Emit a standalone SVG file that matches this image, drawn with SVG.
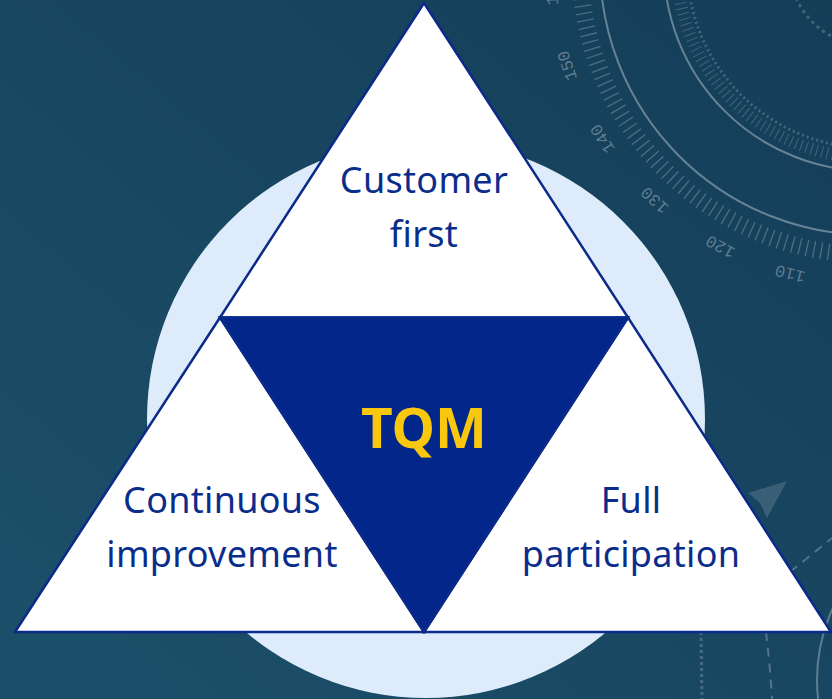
<svg xmlns="http://www.w3.org/2000/svg" width="832" height="699" viewBox="0 0 832 699">
  <defs>
    <linearGradient id="bg" x1="0" y1="1" x2="1" y2="0">
      <stop offset="0" stop-color="#1c506a"/>
      <stop offset="1" stop-color="#143d58"/>
    </linearGradient>
    <style>
      .deco { fill: none; stroke: #ffffff; }
      .num { font-family: "Liberation Mono", "DejaVu Sans Mono", monospace; font-size: 17px; fill: #ffffff; fill-opacity: 0.33; text-anchor: middle; dominant-baseline: central; }
      .tri { fill: #ffffff; stroke: #0b2a8a; stroke-width: 2.5; stroke-linejoin: miter; }
      .core { fill: #03268a; stroke: #0b2a8a; stroke-width: 2.5; }
      .lbl { font-family: "Noto Sans", "Open Sans", "DejaVu Sans", sans-serif; font-size: 36px; letter-spacing: 0.3px; fill: #0a2d8c; text-anchor: middle; }
      .tqm { font-family: "Noto Sans", "Open Sans", "DejaVu Sans", sans-serif; font-size: 55px; font-weight: bold; fill: #f9c80e; text-anchor: middle; }
    </style>
  </defs>

  <!-- background -->
  <rect x="0" y="0" width="832" height="699" fill="url(#bg)"/>

  <!-- compass decoration, top right -->
  <g id="compass-top">
    <circle class="deco" cx="870" cy="-35" r="270" stroke-width="2" stroke-opacity="0.35"/>
    <circle class="deco" cx="870" cy="-35" r="206" stroke-width="2" stroke-opacity="0.35"/>
    <circle class="deco" cx="870" cy="-35" r="290" stroke-width="17" stroke-opacity="0.24" stroke-dasharray="1.3 6"/>
    <circle class="deco" cx="870" cy="-35" r="193" stroke-width="12" stroke-opacity="0.2" stroke-dasharray="1 4.4"/>
    <circle class="deco" cx="870" cy="-35" r="183" stroke-width="3" stroke-opacity="0.2" stroke-dasharray="2 3"/>
    <circle class="deco" cx="870" cy="-35" r="81" stroke-width="3" stroke-opacity="0.2" stroke-dasharray="3 4"/>
    <text class="num" transform="translate(552.8,-10) rotate(266)">160</text>
    <text class="num" transform="translate(568.2,65.4) rotate(251.7)">150</text>
    <text class="num" transform="translate(603.3,138.2) rotate(237.4)">140</text>
    <text class="num" transform="translate(655.2,199.5) rotate(223.1)">130</text>
    <text class="num" transform="translate(720.7,245.8) rotate(208.8)">120</text>
    <text class="num" transform="translate(790.4,272.8) rotate(194.5)">110</text>
  </g>

  <!-- compass decoration, bottom right -->
  <g id="compass-bottom">
    <circle class="deco" cx="988" cy="680" r="171" stroke-width="2" stroke-opacity="0.3"/>
    <path class="deco" d="M766,632 Q770,665 772,699" stroke-width="2" stroke-opacity="0.25" stroke-dasharray="9 7"/>
    <path class="deco" d="M701,632 L702,699" stroke-width="3" stroke-opacity="0.2" stroke-dasharray="3 3"/>
    <path class="deco" d="M790,572 L832,538" stroke-width="2" stroke-opacity="0.25" stroke-dasharray="9 7"/>
    <polygon points="748,493 787,481 767,518 760,503" fill="#ffffff" fill-opacity="0.15"/>
  </g>

  <!-- backdrop circle -->
  <circle id="backdrop" cx="426" cy="419" r="279" fill="#deebfb"/>

  <g id="connectors"/>

  <g id="node-customer-first">
    <polygon class="tri" points="424,3 220,317.5 628,317.5"/>
    <text class="lbl" x="424" y="193">Customer</text>
    <text class="lbl" x="424" y="247">first</text>
  </g>

  <g id="node-continuous-improvement">
    <polygon class="tri" points="220,317.5 15,632 424,632"/>
    <text class="lbl" x="222" y="513">Continuous</text>
    <text class="lbl" x="222" y="567">improvement</text>
  </g>

  <g id="node-full-participation">
    <polygon class="tri" points="628,317.5 424,632 831,632"/>
    <text class="lbl" x="631" y="513">Full</text>
    <text class="lbl" x="631" y="567">participation</text>
  </g>

  <g id="node-tqm">
    <polygon class="core" points="220,317.5 628,317.5 424,632"/>
    <text class="tqm" x="424" y="448">TQM</text>
  </g>
</svg>
